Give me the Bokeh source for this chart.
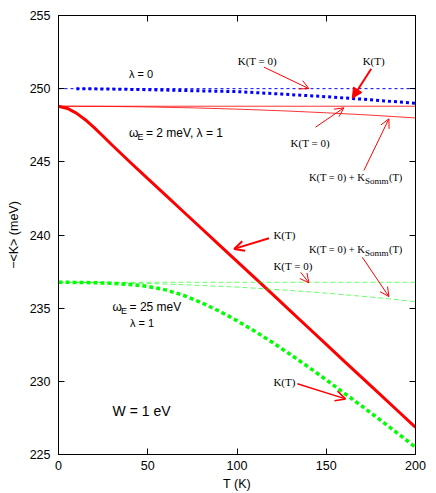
from bokeh.plotting import figure
from bokeh.models import (LinearAxis, Label, Arrow, OpenHead, NormalHead,
                          FixedTicker, CustomJSTickFormatter)
from bokeh.embed import file_html
from bokeh.resources import INLINE

# ---------------- data ----------------
# omega_E = 2 meV, lambda = 1 : K(T)
T_red = [0, 5, 10, 15, 20, 25, 30, 40, 50, 60, 70, 80, 90, 100,
         110, 120, 130, 140, 150, 160, 170, 180, 190, 200]
K_red = [248.8, 248.65, 248.33, 247.88, 247.34, 246.75, 246.15, 244.99, 243.85, 242.72, 241.59,
         240.46, 239.33, 238.2, 237.07, 235.94, 234.8, 233.66, 232.52, 231.38, 230.25,
         229.12, 227.99, 226.86]
# omega_E = 25 meV, lambda = 1 : K(T)
T_green = [0, 10, 20, 30, 40, 50, 60, 70, 80, 90, 100,
           110, 120, 130, 140, 150, 160, 170, 180, 190, 200]
K_green = [236.77, 236.76, 236.74, 236.7, 236.62, 236.49, 236.25, 235.88, 235.38, 234.8, 234.15,
           233.42, 232.65, 231.83, 230.98, 230.1, 229.2, 228.3, 227.38, 226.45, 225.5]
# lambda = 0 : K(T)
T_blue = [10, 25, 50, 75, 100, 125, 150, 175, 200]
K_blue = [250.0, 249.98, 249.93, 249.86, 249.8, 249.63, 249.45, 249.24, 249.0]
# K(T=0) + K_Somm(T)
T_somm = [0, 25, 50, 75, 100, 125, 150, 175, 200]
Ksomm_red = [248.8, 248.79, 248.75, 248.69, 248.6, 248.49, 248.35, 248.19, 248.0]
Ksomm_green = [236.77, 236.75, 236.69, 236.58, 236.44, 236.25, 236.03, 235.76, 235.45]
# K(T=0) constants
T_const = [0, 200]
K0_blue = [250.0, 250.0]
K0_red = [248.8, 248.8]
K0_green = [236.77, 236.77]

x_ticks = [0, 50, 100, 150, 200]
y_ticks = [225, 230, 235, 240, 245, 250, 255]

SANS = "Liberation Sans"
SERIF = "Liberation Serif"

p = figure(width=434, height=493, x_range=(0, 200), y_range=(225, 255),
           output_backend="svg", toolbar_location=None,
           min_border_left=58, min_border_right=19, min_border_top=15, min_border_bottom=39)
p.grid.visible = False
p.outline_line_color = "black"
p.outline_line_width = 1
p.background_fill_color = "white"
p.border_fill_color = "white"

# main axes
p.xaxis.ticker = FixedTicker(ticks=x_ticks)
p.yaxis.ticker = FixedTicker(ticks=y_ticks)
for ax in (p.xaxis[0], p.yaxis[0]):
    ax.major_tick_in = 6
    ax.major_tick_out = 0
    ax.minor_tick_line_color = None
    ax.axis_line_color = "black"
    ax.major_tick_line_color = "black"
    ax.major_label_text_font = SANS
    ax.major_label_text_font_size = "12.5px"
    ax.major_label_text_color = "black"
    ax.axis_label_text_font = SANS
    ax.axis_label_text_font_size = "12.5px"
    ax.axis_label_text_font_style = "normal"
    ax.axis_label_text_color = "black"
p.xaxis.axis_label = "T (K)"
p.xaxis.major_label_standoff = 6
p.xaxis.axis_label_standoff = 4
p.yaxis.axis_label = "\u2212<K> (meV)"
p.yaxis.major_label_standoff = 8
p.yaxis.axis_label_standoff = 6

# mirror axes (ticks only)
blank = CustomJSTickFormatter(code="return ''")
for loc, tk in (("right", y_ticks), ("above", x_ticks)):
    ax = LinearAxis(ticker=FixedTicker(ticks=tk), formatter=blank,
                    major_tick_in=6, major_tick_out=0, minor_tick_line_color=None,
                    major_label_text_font_size="0px", major_label_standoff=0,
                    axis_line_color="black", major_tick_line_color="black")
    p.add_layout(ax, loc)

# ---------------- lines ----------------
p.line(T_const, K0_blue, line_color="#0000ff", line_width=1, line_dash="3 3")
p.line(T_blue, K_blue, line_color="#0000ff", line_width=3, line_dash="3 3")

p.line(T_const, K0_red, line_color="#ff0000", line_width=1, line_alpha=0.8)
p.line(T_somm, Ksomm_red, line_color="#ff0000", line_width=1, line_alpha=0.8)
p.line(T_red, K_red, line_color="#ff0000", line_width=3)

p.line(T_const, K0_green, line_color="#00ff00", line_width=1, line_alpha=0.6, line_dash="5 3")
p.line(T_somm, Ksomm_green, line_color="#00ff00", line_width=1, line_alpha=0.6, line_dash="5 3")
p.line(T_green, K_green, line_color="#00ff00", line_width=3.5, line_dash="4 3")

# ---------------- annotations ----------------
def lab(text, x, y, size="11px", font=SERIF, dx=0, dy=0):
    p.add_layout(Label(x=x, y=y, text=text, text_font=font, text_font_size=size,
                       text_baseline="middle", text_align="left", text_color="black",
                       x_offset=dx, y_offset=dy))

lab("K(T = 0)", 100.4, 251.92)
lab("K(T)", 170.4, 251.92)
lab("\u03bb = 0", 39.5, 250.97, size="11px", font=SANS)

lab("\u03c9", 39.5, 247.0, size="12px", font=SANS)
lab("E", 39.5, 247.0, size="9px", font=SANS, dx=8.5, dy=-4)
lab("= 2 meV, \u03bb = 1", 39.5, 247.0, size="12px", font=SANS, dx=17)

lab("K(T = 0)", 130.0, 246.3)

lab("K(T = 0) + K", 140.3, 243.95, size="10.5px")
lab("Somm", 140.3, 243.95, size="9px", dx=56, dy=-3.5)
lab("(T)", 140.3, 243.95, size="10.5px", dx=80)

lab("K(T)", 120.4, 240.0)

lab("K(T = 0) + K", 140.3, 238.99, size="10.5px")
lab("Somm", 140.3, 238.99, size="9px", dx=56, dy=-3.5)
lab("(T)", 140.3, 238.99, size="10.5px", dx=80)

lab("K(T = 0)", 120.4, 237.91)

lab("\u03c9", 30.3, 235.06, size="12px", font=SANS)
lab("E", 30.3, 235.06, size="9px", font=SANS, dx=8.5, dy=-4)
lab("= 25 meV", 30.3, 235.06, size="12px", font=SANS, dx=17)
lab("\u03bb = 1", 40.0, 234.0, size="11px", font=SANS)

lab("K(T)", 120.4, 229.94)
lab("W = 1 eV", 30.3, 227.95, size="14px", font=SANS)

def arrow(x0, y0, x1, y1, lw=1, head="open", size=9):
    if head == "open":
        h = OpenHead(size=size, line_color="#ff0000", line_width=lw)
    else:
        h = NormalHead(size=size, line_color="#ff0000", fill_color="#ff0000", line_width=1)
    p.add_layout(Arrow(end=h, x_start=x0, y_start=y0, x_end=x1, y_end=y1,
                       line_color="#ff0000", line_width=lw))

arrow(115.1, 251.47, 140.3, 250.0)
arrow(175.2, 251.36, 164.6, 249.35, lw=2, head="filled", size=10)
arrow(144.0, 247.37, 159.9, 248.69)
arrow(171.1, 244.41, 185.1, 247.94)
arrow(117.9, 239.78, 98.4, 239.05, lw=2, size=10)
arrow(170.2, 238.48, 185.1, 235.79)
arrow(135.7, 237.45, 140.3, 236.73)
arrow(133.8, 229.83, 160.8, 228.8, lw=1.5, size=10)

open("out.html", "w").write(file_html(p, INLINE))
